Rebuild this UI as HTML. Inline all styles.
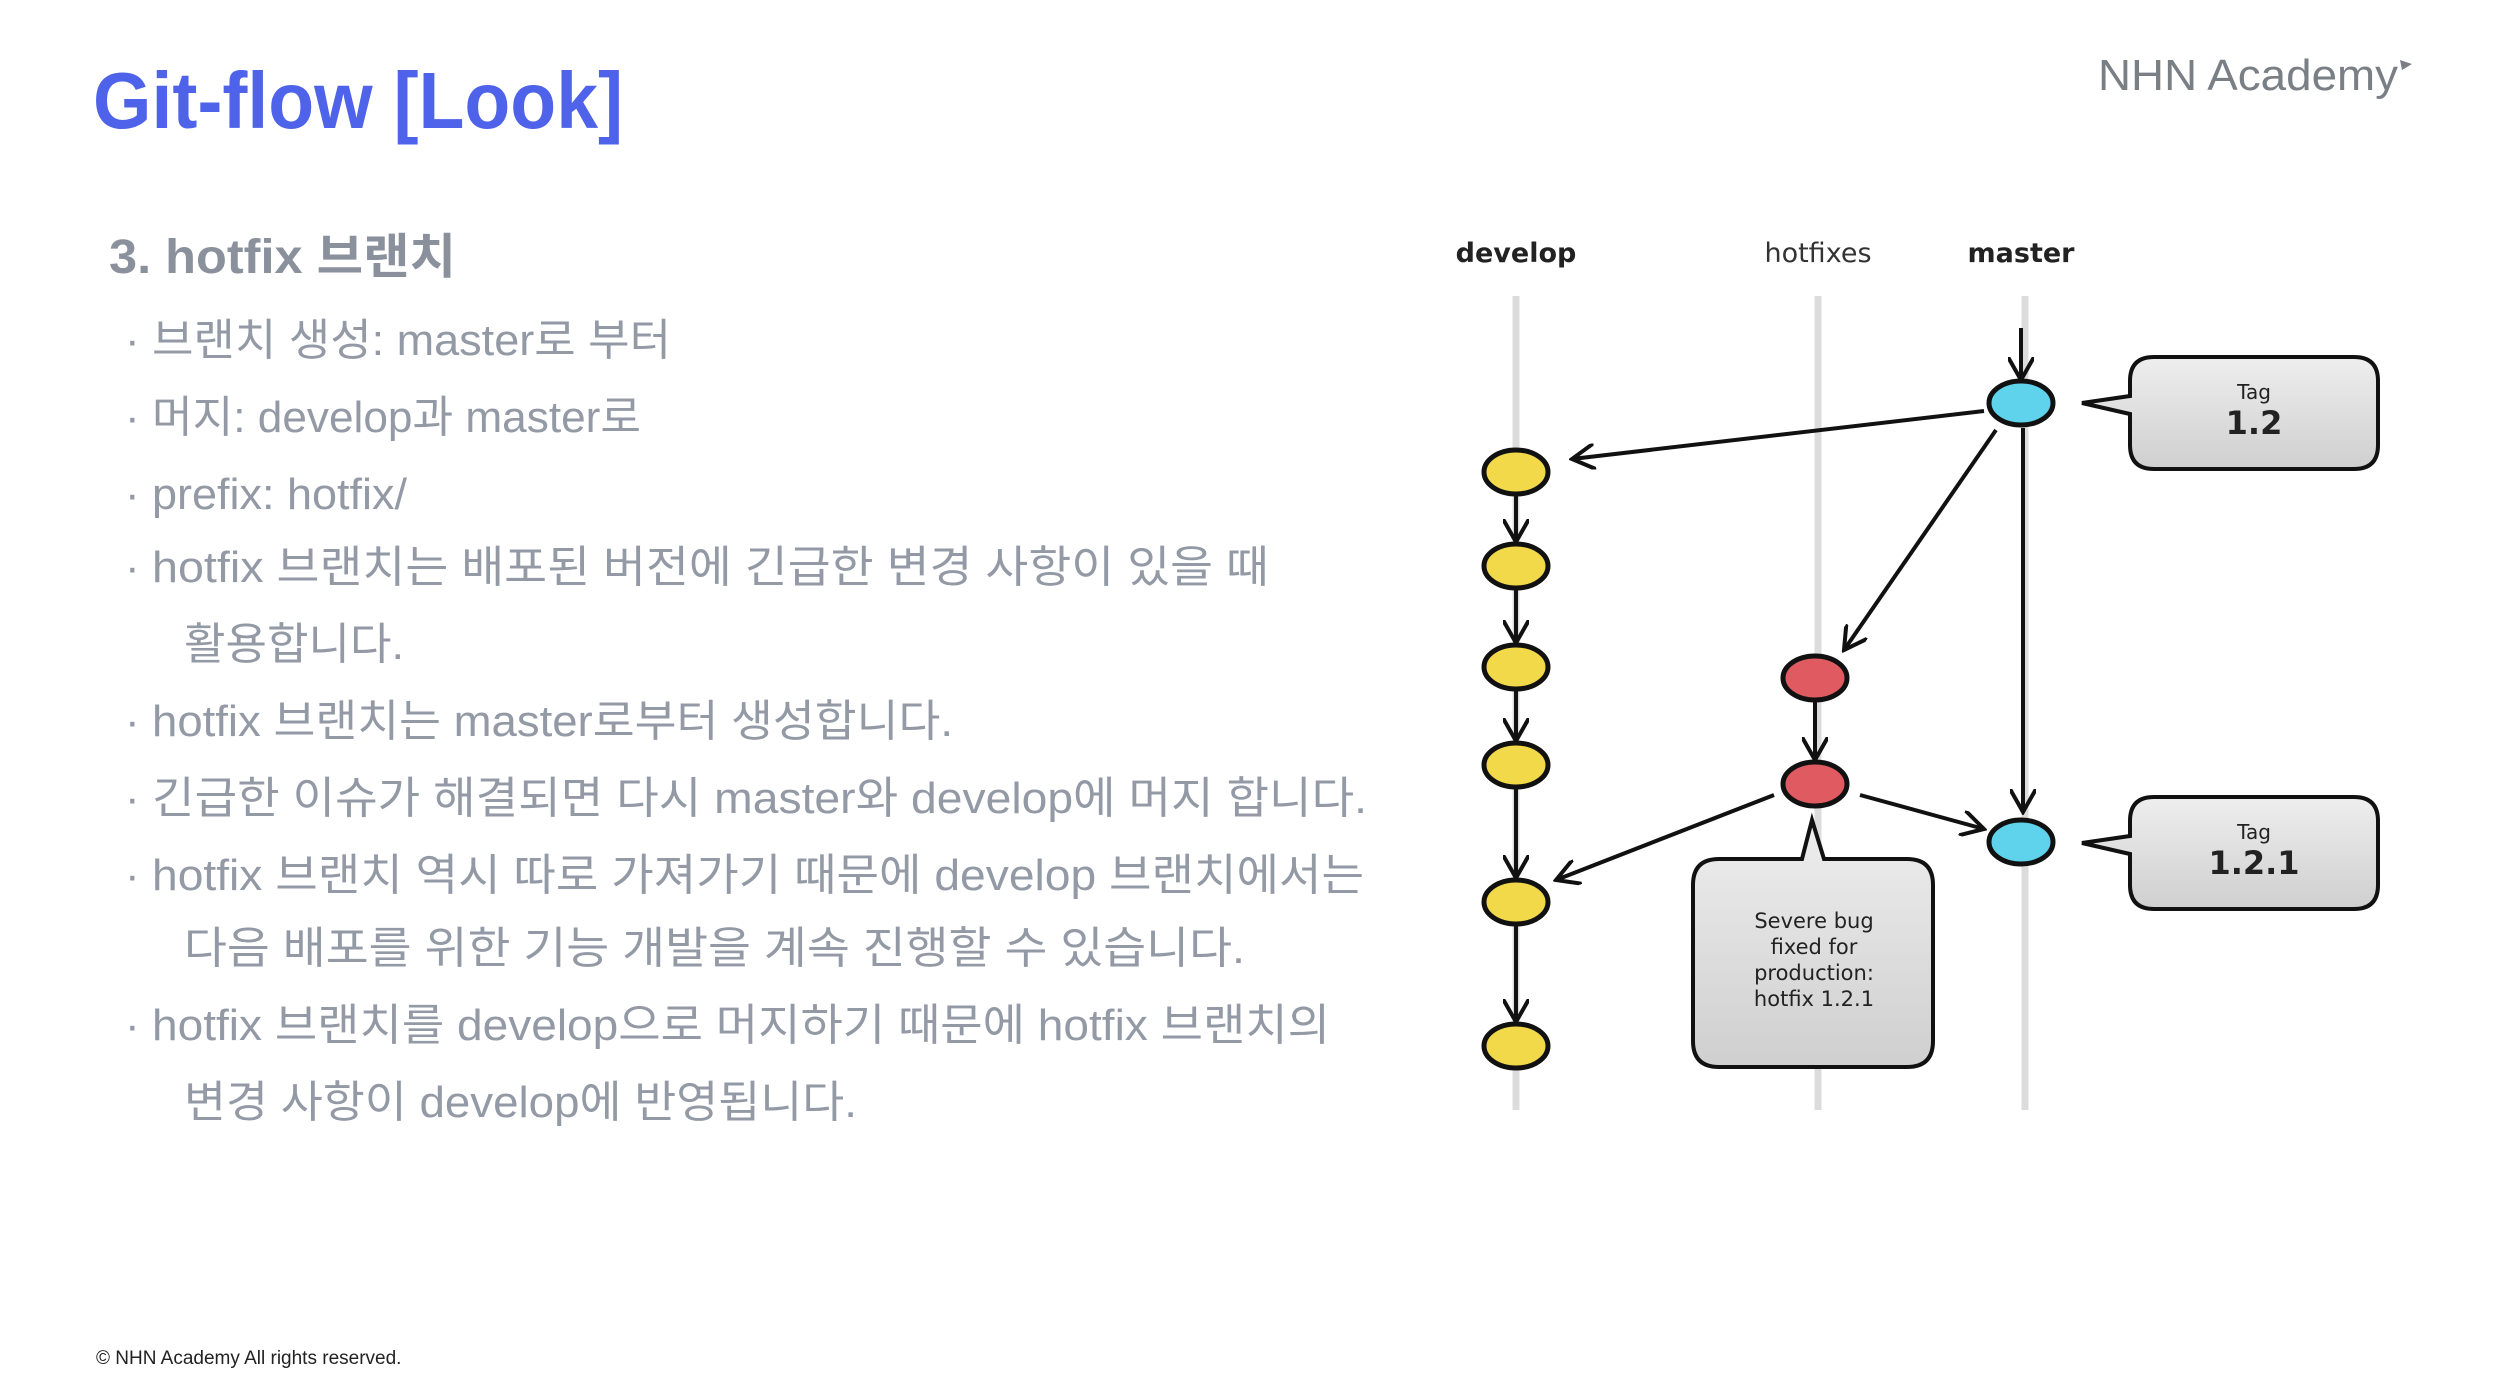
<!DOCTYPE html>
<html><head><meta charset="utf-8"><style>
html,body{margin:0;padding:0;background:#fff;}
svg{display:block;}
</style></head><body>
<svg width="2500" height="1390" viewBox="0 0 2500 1390" xmlns="http://www.w3.org/2000/svg">
<defs>
<marker id="ah" viewBox="0 0 26 26" refX="23" refY="13" markerWidth="26" markerHeight="26" markerUnits="userSpaceOnUse" orient="auto">
<path d="M0,0 L23,13 L0,26" fill="none" stroke="#111" stroke-width="4"/>
</marker>
<linearGradient id="bx" x1="0" y1="0" x2="0" y2="1"><stop offset="0" stop-color="#eeeeee"/><stop offset="1" stop-color="#cfcfcf"/></linearGradient>
</defs>
<g font-family="'Liberation Sans','Noto Sans CJK KR',sans-serif">
<text x="93" y="128" font-size="80" font-weight="bold" fill="#4f63ea" textLength="530" lengthAdjust="spacingAndGlyphs">Git-flow [Look]</text>
<text x="2098" y="90" font-size="44" fill="#7a7f86" textLength="300" lengthAdjust="spacingAndGlyphs">NHN Academy</text>
<path d="M2400,60 l12,4 l-10,6z" fill="#7a7f86"/>
<text x="109" y="273" font-size="48" font-weight="bold" fill="#8a919c" textLength="347" lengthAdjust="spacingAndGlyphs">3. hotfix 브랜치</text>
<g font-size="44" fill="#939aa5">
<text x="125" y="355">·</text><text x="152" y="355" textLength="519" lengthAdjust="spacingAndGlyphs">브랜치 생성: master로 부터</text>
<text x="125" y="432">·</text><text x="152" y="432" textLength="489" lengthAdjust="spacingAndGlyphs">머지: develop과 master로</text>
<text x="125" y="509">·</text><text x="152" y="509" textLength="255" lengthAdjust="spacingAndGlyphs">prefix: hotfix/</text>
<text x="125" y="582">·</text><text x="152" y="582" textLength="1117" lengthAdjust="spacingAndGlyphs">hotfix 브랜치는 배포된 버전에 긴급한 변경 사항이 있을 때</text>
<text x="184" y="659" textLength="220" lengthAdjust="spacingAndGlyphs">활용합니다.</text>
<text x="125" y="736">·</text><text x="152" y="736" textLength="801" lengthAdjust="spacingAndGlyphs">hotfix 브랜치는 master로부터 생성합니다.</text>
<text x="125" y="813">·</text><text x="152" y="813" textLength="1215" lengthAdjust="spacingAndGlyphs">긴급한 이슈가 해결되면 다시 master와 develop에 머지  합니다.</text>
<text x="125" y="890">·</text><text x="152" y="890" textLength="1212" lengthAdjust="spacingAndGlyphs">hotfix 브랜치 역시 따로 가져가기 때문에 develop 브랜치에서는</text>
<text x="184" y="963" textLength="1061" lengthAdjust="spacingAndGlyphs">다음 배포를 위한 기능 개발을 계속 진행할 수 있습니다.</text>
<text x="125" y="1040">·</text><text x="152" y="1040" textLength="1178" lengthAdjust="spacingAndGlyphs">hotfix 브랜치를 develop으로 머지하기 때문에 hotfix 브랜치의</text>
<text x="184" y="1117" textLength="673" lengthAdjust="spacingAndGlyphs">변경 사항이 develop에 반영됩니다.</text>
</g>
<text x="96" y="1364" font-size="19" fill="#222">© NHN Academy All rights reserved.</text>
</g>
<g transform="translate(-6,0)">
<g font-family="'DejaVu Sans','Liberation Sans',sans-serif">
<text x="1522" y="262" font-size="27" font-weight="bold" fill="#222" text-anchor="middle">develop</text>
<text x="1824" y="262" font-size="27" fill="#333" text-anchor="middle">hotfixes</text>
<text x="2027" y="262" font-size="27" font-weight="bold" fill="#222" text-anchor="middle">master</text>
</g>
<g stroke="#dcdcdc" stroke-width="7">
<line x1="1522" y1="296" x2="1522" y2="1110"/>
<line x1="1824" y1="296" x2="1824" y2="1110"/>
<line x1="2031" y1="296" x2="2031" y2="1110"/>
</g>
<g stroke="#111" stroke-width="4" fill="none" marker-end="url(#ah)">
<line x1="2027" y1="328" x2="2027" y2="380"/>
<line x1="1990" y1="411" x2="1578" y2="459"/>
<line x1="2002" y1="430" x2="1850" y2="650"/>
<line x1="2029" y1="428" x2="2029" y2="812"/>
<line x1="1522" y1="495" x2="1522" y2="542"/>
<line x1="1522" y1="589" x2="1522" y2="643"/>
<line x1="1522" y1="690" x2="1522" y2="741"/>
<line x1="1522" y1="788" x2="1522" y2="878"/>
<line x1="1522" y1="925" x2="1522" y2="1022"/>
<line x1="1821" y1="701" x2="1821" y2="760"/>
<line x1="1780" y1="795" x2="1562" y2="880"/>
<line x1="1866" y1="795" x2="1990" y2="829"/>
</g>
<g stroke="#111" stroke-width="5">
<ellipse cx="1522" cy="472" rx="32" ry="22" fill="#f1d94a"/>
<ellipse cx="1522" cy="566" rx="32" ry="22" fill="#f1d94a"/>
<ellipse cx="1522" cy="667" rx="32" ry="22" fill="#f1d94a"/>
<ellipse cx="1522" cy="765" rx="32" ry="22" fill="#f1d94a"/>
<ellipse cx="1522" cy="902" rx="32" ry="22" fill="#f1d94a"/>
<ellipse cx="1522" cy="1046" rx="32" ry="22" fill="#f1d94a"/>
<ellipse cx="1821" cy="678" rx="32" ry="22" fill="#e05a62"/>
<ellipse cx="1821" cy="784" rx="32" ry="22" fill="#e05a62"/>
<ellipse cx="2027" cy="403" rx="32" ry="22" fill="#5fd3ec"/>
<ellipse cx="2027" cy="842" rx="32" ry="22" fill="#5fd3ec"/>
</g>
<g stroke="#111" stroke-width="4" fill="url(#bx)">
<path d="M2160,357 H2360 Q2384,357 2384,381 V445 Q2384,469 2360,469 H2160 Q2136,469 2136,445 V414 L2088,403 L2136,396 V381 Q2136,357 2160,357Z"/>
<path d="M2160,797 H2360 Q2384,797 2384,821 V885 Q2384,909 2360,909 H2160 Q2136,909 2136,885 V854 L2088,843 L2136,836 V821 Q2136,797 2160,797Z"/>
<path d="M1725,859 H1808 L1818,820 L1830,859 H1913 Q1939,859 1939,885 V1041 Q1939,1067 1913,1067 H1725 Q1699,1067 1699,1041 V885 Q1699,859 1725,859Z"/>
</g>
<g font-family="'DejaVu Sans','Liberation Sans',sans-serif" fill="#222" text-anchor="middle">
<text x="2260" y="399" font-size="20">Tag</text>
<text x="2260" y="434" font-size="32" font-weight="bold">1.2</text>
<text x="2260" y="839" font-size="20">Tag</text>
<text x="2260" y="874" font-size="32" font-weight="bold">1.2.1</text>
<g font-size="21"><text x="1820" y="928">Severe bug</text><text x="1820" y="954">fixed for</text><text x="1820" y="980">production:</text><text x="1820" y="1006">hotfix 1.2.1</text></g>
</g>
</g>
</svg>
</body></html>
